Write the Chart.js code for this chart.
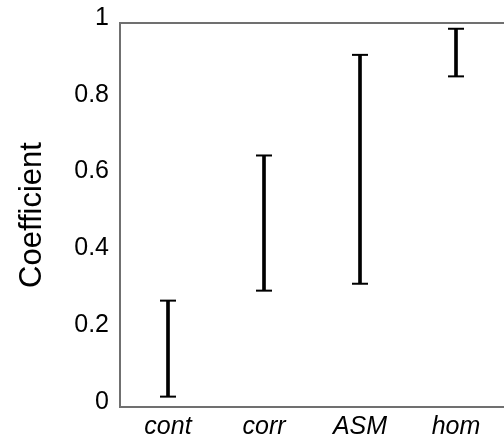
<!DOCTYPE html>
<html>
<head>
<meta charset="utf-8">
<script src="https://cdn.jsdelivr.net/npm/chart.js@4/dist/chart.umd.min.js"></script>
<style>
  html, body { margin: 0; padding: 0; background: #ffffff; }
  #wrap { width: 504px; height: 441px; }
</style>
</head>
<body>
<div id="wrap"><canvas id="c" width="504" height="441"></canvas></div>
<script>
// Texture features and the range of their coefficients
const categories = ['cont', 'corr', 'ASM', 'hom'];
const lowValues  = [0.027, 0.303, 0.321, 0.861];
const highValues = [0.277, 0.655, 0.917, 0.985];
const yTicks = [0, 0.2, 0.4, 0.6, 0.8, 1];

const FONT = '"Liberation Sans", Arial, sans-serif';
const AXIS_COLOR = '#707070';

// Closes the frame along the top edge of the plot area
const topFrame = {
  id: 'topFrame',
  afterDraw(chart) {
    const { ctx, chartArea } = chart;
    ctx.save();
    ctx.strokeStyle = AXIS_COLOR;
    ctx.lineWidth = 2;
    ctx.beginPath();
    ctx.moveTo(chartArea.left, chartArea.top);
    ctx.lineTo(chart.width, chartArea.top);
    ctx.stroke();
    ctx.restore();
  }
};

new Chart(document.getElementById('c'), {
  type: 'bar',
  data: {
    labels: categories,
    datasets: [
      {
        // vertical stem of each range
        data: categories.map((c, i) => [lowValues[i], highValues[i]]),
        backgroundColor: '#000000',
        borderWidth: 0,
        barThickness: 3,
        grouped: false
      },
      {
        // upper cap
        type: 'line',
        data: highValues,
        showLine: false,
        pointStyle: 'line',
        pointRadius: 8,
        pointHoverRadius: 8,
        pointBorderWidth: 2,
        pointBorderColor: '#000000',
        borderColor: '#000000'
      },
      {
        // lower cap
        type: 'line',
        data: lowValues,
        showLine: false,
        pointStyle: 'line',
        pointRadius: 8,
        pointHoverRadius: 8,
        pointBorderWidth: 2,
        pointBorderColor: '#000000',
        borderColor: '#000000'
      }
    ]
  },
  options: {
    responsive: false,
    animation: false,
    events: [],
    layout: { autoPadding: false, padding: { top: 23, right: 0, bottom: 0, left: 0 } },
    plugins: {
      legend: { display: false },
      tooltip: { enabled: false }
    },
    scales: {
      x: {
        offset: true,
        grid: { display: false, drawTicks: false },
        border: { display: true, color: AXIS_COLOR, width: 2 },
        ticks: {
          color: '#000000',
          padding: 5,
          maxRotation: 0,
          font: { family: FONT, size: 25, style: 'italic' }
        },
        afterFit(scale) {
          scale.height = 34;
          scale.paddingLeft = 0;
          scale.paddingRight = 0;
        }
      },
      y: {
        min: 0,
        max: 1,
        afterBuildTicks(scale) { scale.ticks = yTicks.map(v => ({ value: v })); },
        grid: { display: false, drawTicks: false },
        border: { display: true, color: AXIS_COLOR, width: 2 },
        ticks: {
          color: '#000000',
          padding: 11,
          labelOffset: -5,
          font: { family: FONT, size: 25 },
          callback: v => String(Number(v.toFixed(1)))
        },
        title: {
          display: true,
          text: 'Coefficient',
          color: '#000000',
          padding: { top: 14, bottom: 0 },
          font: { family: FONT, size: 31 }
        },
        afterFit(scale) {
          scale.width = 120;
          scale.paddingTop = 0;
          scale.paddingBottom = 0;
        }
      }
    }
  },
  plugins: [topFrame]
});
</script>
</body>
</html>
